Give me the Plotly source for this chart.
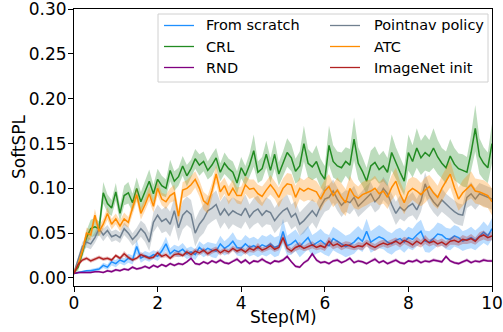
import numpy as np
import plotly.graph_objects as go

# Training step in millions (one sample every 0.1M)
steps = np.round(np.arange(101) * 0.1, 1)

# Mean SoftSPL per method
from_scratch = [0.005, 0.006, 0.007, 0.008, 0.008, 0.009, 0.010, 0.014, 0.012, 0.018,
                0.016, 0.020, 0.018, 0.022, 0.020, 0.035, 0.022, 0.025, 0.023, 0.026,
                0.024, 0.030, 0.038, 0.027, 0.031, 0.029, 0.032, 0.027, 0.029, 0.026,
                0.034, 0.030, 0.033, 0.031, 0.030, 0.038, 0.033, 0.036, 0.041, 0.034,
                0.033, 0.038, 0.034, 0.036, 0.033, 0.037, 0.035, 0.038, 0.034, 0.036,
                0.052, 0.036, 0.038, 0.042, 0.035, 0.040, 0.045, 0.036, 0.039, 0.042,
                0.038, 0.036, 0.044, 0.041, 0.038, 0.035, 0.037, 0.040, 0.045, 0.041,
                0.052, 0.040, 0.043, 0.046, 0.044, 0.040, 0.038, 0.042, 0.044, 0.040,
                0.045, 0.043, 0.048, 0.052, 0.041, 0.040, 0.044, 0.049, 0.048, 0.044,
                0.043, 0.047, 0.045, 0.041, 0.043, 0.045, 0.042, 0.046, 0.051, 0.047,
                0.055]
crl = [0.006, 0.012, 0.028, 0.045, 0.055, 0.057, 0.055, 0.095, 0.083, 0.078,
       0.096, 0.072, 0.092, 0.095, 0.084, 0.100, 0.085, 0.097, 0.108, 0.094,
       0.110, 0.103, 0.100, 0.120, 0.108, 0.113, 0.125, 0.114, 0.122, 0.133,
       0.126, 0.130, 0.120, 0.126, 0.134, 0.118, 0.128, 0.122, 0.118, 0.106,
       0.123, 0.114, 0.126, 0.142, 0.118, 0.122, 0.138, 0.120, 0.138, 0.116,
       0.127, 0.140, 0.134, 0.119, 0.125, 0.150, 0.128, 0.124, 0.130, 0.117,
       0.110, 0.148, 0.130, 0.125, 0.123, 0.130, 0.126, 0.155, 0.128, 0.119,
       0.108, 0.125, 0.129, 0.121, 0.125, 0.118, 0.140, 0.128, 0.118, 0.108,
       0.140, 0.130, 0.145, 0.134, 0.140, 0.136, 0.145, 0.135, 0.128, 0.123,
       0.136, 0.127, 0.122, 0.120, 0.118, 0.140, 0.167, 0.136, 0.128, 0.123,
       0.150]
rnd = [0.005, 0.006, 0.006, 0.006, 0.006, 0.007, 0.007, 0.006, 0.008, 0.007,
       0.009, 0.008, 0.010, 0.009, 0.012, 0.010, 0.011, 0.013, 0.011, 0.014,
       0.012, 0.015, 0.013, 0.016, 0.014, 0.016, 0.015, 0.018, 0.022, 0.016,
       0.015, 0.018, 0.016, 0.019, 0.017, 0.020, 0.017, 0.016, 0.019, 0.021,
       0.017, 0.020, 0.016, 0.019, 0.018, 0.021, 0.018, 0.016, 0.019, 0.018,
       0.020, 0.024, 0.018, 0.013, 0.012, 0.017, 0.020, 0.027, 0.020, 0.017,
       0.018, 0.016, 0.019, 0.020, 0.017, 0.019, 0.022, 0.017, 0.019, 0.018,
       0.016, 0.019, 0.021, 0.017, 0.019, 0.016, 0.018, 0.020, 0.017, 0.016,
       0.019, 0.018, 0.020, 0.017, 0.019, 0.018, 0.020, 0.019, 0.018, 0.024,
       0.019, 0.017, 0.016, 0.018, 0.020, 0.017, 0.019, 0.018, 0.020, 0.019,
       0.019]
pointnav = [0.006, 0.020, 0.035, 0.040, 0.038, 0.045, 0.055, 0.048, 0.053, 0.046,
            0.048, 0.045, 0.055, 0.050, 0.043, 0.048, 0.055, 0.050, 0.040, 0.062,
            0.070, 0.063, 0.066, 0.060, 0.075, 0.056, 0.070, 0.075, 0.071, 0.050,
            0.060, 0.066, 0.075, 0.078, 0.082, 0.070, 0.077, 0.070, 0.075, 0.072,
            0.070, 0.078, 0.068, 0.074, 0.077, 0.070, 0.075, 0.073, 0.064, 0.070,
            0.075, 0.078, 0.068, 0.072, 0.060, 0.064, 0.069, 0.075, 0.069, 0.080,
            0.088, 0.090, 0.097, 0.088, 0.081, 0.086, 0.084, 0.090, 0.080, 0.085,
            0.090, 0.094, 0.085, 0.090, 0.100, 0.094, 0.082, 0.072, 0.079, 0.075,
            0.080, 0.083, 0.076, 0.086, 0.105, 0.092, 0.085, 0.080, 0.087, 0.082,
            0.078, 0.074, 0.071, 0.070, 0.090, 0.094, 0.088, 0.094, 0.092, 0.090,
            0.088]
atc = [0.006, 0.015, 0.030, 0.050, 0.048, 0.070, 0.052, 0.060, 0.072, 0.060,
       0.066, 0.058, 0.066, 0.062, 0.078, 0.093, 0.072, 0.082, 0.094, 0.080,
       0.100, 0.088, 0.085, 0.092, 0.095, 0.069, 0.098, 0.100, 0.104, 0.110,
       0.100, 0.086, 0.082, 0.097, 0.116, 0.096, 0.103, 0.092, 0.100, 0.092,
       0.092, 0.104, 0.099, 0.100, 0.094, 0.091, 0.098, 0.104, 0.098, 0.090,
       0.100, 0.105, 0.104, 0.090, 0.100, 0.097, 0.100, 0.098, 0.096, 0.088,
       0.097, 0.102, 0.092, 0.098, 0.090, 0.084, 0.100, 0.092, 0.089, 0.093,
       0.095, 0.097, 0.100, 0.094, 0.097, 0.090, 0.101, 0.108, 0.094, 0.084,
       0.096, 0.100, 0.097, 0.093, 0.098, 0.102, 0.095, 0.090, 0.100, 0.108,
       0.116, 0.101, 0.088, 0.095, 0.100, 0.104, 0.097, 0.096, 0.094, 0.092,
       0.085]
imagenet_init = [0.005, 0.015, 0.020, 0.022, 0.019, 0.021, 0.023, 0.021, 0.022, 0.020,
                 0.025, 0.022, 0.027, 0.023, 0.020, 0.022, 0.026, 0.024, 0.022, 0.023,
                 0.028, 0.024, 0.026, 0.022, 0.026, 0.027, 0.025, 0.029, 0.026, 0.030,
                 0.028, 0.031, 0.027, 0.030, 0.032, 0.028, 0.031, 0.029, 0.033, 0.030,
                 0.032, 0.029, 0.033, 0.031, 0.035, 0.031, 0.033, 0.036, 0.032, 0.034,
                 0.045, 0.033, 0.030, 0.034, 0.036, 0.033, 0.035, 0.037, 0.034, 0.036,
                 0.034, 0.041, 0.036, 0.038, 0.035, 0.037, 0.036, 0.034, 0.036, 0.035,
                 0.039, 0.036, 0.034, 0.037, 0.039, 0.037, 0.039, 0.041, 0.038, 0.042,
                 0.040, 0.037, 0.041, 0.038, 0.043, 0.039, 0.041, 0.038, 0.040, 0.037,
                 0.041, 0.042, 0.040, 0.043, 0.042, 0.044, 0.041, 0.046, 0.048, 0.045,
                 0.047]

# Spread (std across seeds) per method
from_scratch_sd = [0.001, 0.001, 0.0015, 0.0015, 0.002, 0.002, 0.002, 0.003, 0.003, 0.004,
                   0.004, 0.004, 0.004, 0.005, 0.005, 0.008, 0.005, 0.005, 0.005, 0.005,
                   0.005, 0.006, 0.008, 0.006, 0.006, 0.006, 0.007, 0.006, 0.006, 0.006,
                   0.007, 0.007, 0.007, 0.008, 0.008, 0.009, 0.008, 0.009, 0.010, 0.009,
                   0.009, 0.010, 0.010, 0.010, 0.010, 0.011, 0.011, 0.011, 0.011, 0.011,
                   0.014, 0.011, 0.012, 0.012, 0.012, 0.012, 0.013, 0.012, 0.012, 0.013,
                   0.012, 0.012, 0.013, 0.013, 0.012, 0.012, 0.012, 0.013, 0.013, 0.012,
                   0.014, 0.012, 0.012, 0.013, 0.012, 0.012, 0.012, 0.012, 0.012, 0.012,
                   0.012, 0.012, 0.013, 0.013, 0.012, 0.012, 0.012, 0.013, 0.012, 0.012,
                   0.012, 0.012, 0.012, 0.011, 0.011, 0.012, 0.011, 0.011, 0.012, 0.011,
                   0.012]
crl_sd = [0.002, 0.004, 0.006, 0.008, 0.010, 0.010, 0.008, 0.012, 0.010, 0.009,
          0.010, 0.009, 0.011, 0.012, 0.010, 0.012, 0.011, 0.012, 0.013, 0.010,
          0.012, 0.011, 0.010, 0.012, 0.011, 0.010, 0.011, 0.012, 0.010, 0.011,
          0.012, 0.011, 0.010, 0.012, 0.011, 0.010, 0.012, 0.011, 0.012, 0.013,
          0.012, 0.011, 0.013, 0.018, 0.012, 0.013, 0.015, 0.014, 0.016, 0.013,
          0.014, 0.016, 0.015, 0.014, 0.016, 0.020, 0.016, 0.015, 0.018, 0.016,
          0.015, 0.022, 0.018, 0.016, 0.017, 0.016, 0.018, 0.024, 0.018, 0.016,
          0.015, 0.017, 0.018, 0.016, 0.017, 0.016, 0.020, 0.018, 0.017, 0.016,
          0.020, 0.018, 0.022, 0.019, 0.020, 0.018, 0.022, 0.019, 0.017, 0.018,
          0.019, 0.018, 0.017, 0.018, 0.017, 0.020, 0.026, 0.020, 0.018, 0.017,
          0.022]
rnd_sd = [0.001, 0.001, 0.001, 0.001, 0.001, 0.001, 0.001, 0.001, 0.0015, 0.0015,
          0.0015, 0.0015, 0.0015, 0.0015, 0.0015, 0.0015, 0.0015, 0.0015, 0.0015, 0.0015,
          0.0015, 0.0015, 0.0015, 0.0015, 0.0015, 0.0015, 0.0015, 0.0015, 0.002, 0.0015,
          0.0015, 0.0015, 0.0015, 0.0015, 0.0015, 0.002, 0.0015, 0.0015, 0.0015, 0.002,
          0.0015, 0.002, 0.0015, 0.0015, 0.0015, 0.002, 0.0015, 0.0015, 0.0015, 0.0015,
          0.002, 0.002, 0.0015, 0.0015, 0.0015, 0.0015, 0.002, 0.002, 0.002, 0.0015,
          0.0015, 0.0015, 0.0015, 0.002, 0.0015, 0.0015, 0.002, 0.0015, 0.0015, 0.0015,
          0.0015, 0.0015, 0.002, 0.0015, 0.0015, 0.0015, 0.0015, 0.002, 0.0015, 0.0015,
          0.0015, 0.0015, 0.002, 0.0015, 0.0015, 0.0015, 0.002, 0.0015, 0.0015, 0.002,
          0.0015, 0.0015, 0.0015, 0.0015, 0.002, 0.0015, 0.0015, 0.0015, 0.002, 0.0015,
          0.0015]
pointnav_sd = [0.002, 0.004, 0.005, 0.006, 0.006, 0.006, 0.007, 0.007, 0.006, 0.006,
               0.006, 0.006, 0.007, 0.007, 0.007, 0.008, 0.009, 0.010, 0.010, 0.011,
               0.012, 0.013, 0.014, 0.014, 0.015, 0.015, 0.016, 0.016, 0.016, 0.015,
               0.015, 0.016, 0.016, 0.015, 0.016, 0.015, 0.015, 0.016, 0.015, 0.015,
               0.015, 0.015, 0.014, 0.015, 0.015, 0.014, 0.015, 0.014, 0.014, 0.015,
               0.014, 0.015, 0.014, 0.014, 0.013, 0.014, 0.013, 0.013, 0.014, 0.014,
               0.014, 0.014, 0.013, 0.013, 0.013, 0.012, 0.013, 0.013, 0.012, 0.013,
               0.013, 0.013, 0.012, 0.013, 0.013, 0.012, 0.012, 0.013, 0.013, 0.012,
               0.012, 0.013, 0.012, 0.012, 0.013, 0.012, 0.012, 0.012, 0.013, 0.012,
               0.012, 0.013, 0.012, 0.012, 0.012, 0.013, 0.012, 0.012, 0.012, 0.012,
               0.012]
atc_sd = [0.002, 0.004, 0.005, 0.006, 0.006, 0.007, 0.006, 0.006, 0.007, 0.006,
          0.006, 0.006, 0.007, 0.006, 0.007, 0.008, 0.007, 0.007, 0.008, 0.007,
          0.008, 0.007, 0.008, 0.008, 0.009, 0.008, 0.009, 0.009, 0.010, 0.009,
          0.009, 0.010, 0.010, 0.009, 0.010, 0.010, 0.009, 0.010, 0.010, 0.009,
          0.010, 0.010, 0.011, 0.010, 0.010, 0.011, 0.010, 0.011, 0.010, 0.011,
          0.011, 0.012, 0.012, 0.013, 0.012, 0.012, 0.013, 0.012, 0.012, 0.013,
          0.013, 0.014, 0.013, 0.014, 0.016, 0.015, 0.014, 0.014, 0.013, 0.014,
          0.014, 0.013, 0.014, 0.013, 0.014, 0.013, 0.014, 0.015, 0.014, 0.013,
          0.014, 0.013, 0.014, 0.013, 0.014, 0.013, 0.014, 0.013, 0.014, 0.014,
          0.015, 0.014, 0.013, 0.014, 0.014, 0.015, 0.014, 0.014, 0.015, 0.014,
          0.015]
imagenet_init_sd = [0.001, 0.002, 0.002, 0.002, 0.002, 0.002, 0.002, 0.002, 0.002, 0.002,
                    0.002, 0.002, 0.003, 0.002, 0.002, 0.002, 0.003, 0.002, 0.002, 0.002,
                    0.003, 0.002, 0.003, 0.002, 0.003, 0.003, 0.002, 0.003, 0.003, 0.003,
                    0.003, 0.003, 0.003, 0.003, 0.003, 0.003, 0.003, 0.003, 0.003, 0.003,
                    0.003, 0.003, 0.004, 0.003, 0.004, 0.003, 0.003, 0.004, 0.003, 0.003,
                    0.005, 0.004, 0.003, 0.004, 0.004, 0.003, 0.004, 0.004, 0.003, 0.004,
                    0.004, 0.005, 0.004, 0.004, 0.004, 0.004, 0.004, 0.003, 0.004, 0.004,
                    0.004, 0.004, 0.004, 0.004, 0.004, 0.004, 0.004, 0.004, 0.004, 0.004,
                    0.004, 0.004, 0.005, 0.004, 0.005, 0.004, 0.004, 0.004, 0.004, 0.004,
                    0.004, 0.005, 0.004, 0.005, 0.004, 0.005, 0.004, 0.005, 0.005, 0.004,
                    0.005]

methods = [
    # name, mean, sd, line colour, band rgb
    ("From scratch", from_scratch, from_scratch_sd, "#1E90FF", (30, 144, 255)),
    ("CRL", crl, crl_sd, "#228B22", (34, 139, 34)),
    ("RND", rnd, rnd_sd, "#800080", (128, 0, 128)),
    ("Pointnav policy", pointnav, pointnav_sd, "#708090", (112, 128, 144)),
    ("ATC", atc, atc_sd, "#FF8C00", (255, 140, 0)),
    ("ImageNet init", imagenet_init, imagenet_init_sd, "#B22222", (178, 34, 34)),
]

x_tick_vals = [0, 2, 4, 6, 8, 10]
y_tick_vals = [0.00, 0.05, 0.10, 0.15, 0.20, 0.25, 0.30]

# Figure geometry in pixels
W, H = 503, 332
ML, MR, MT, MB = 74, 11, 9, 46
PW, PH = W - ML - MR, H - MT - MB


def px_x(px):
    """Horizontal pixel position -> paper fraction."""
    return (px - ML) / PW


def px_y(py):
    """Vertical pixel position (from top) -> paper fraction."""
    return (H - MB - py) / PH


fig = go.Figure()
xs = list(steps)
for name, mean, sd, color, rgb in methods:
    m = np.array(mean)
    s = np.array(sd)
    upper = m + s
    lower = m - s
    fig.add_trace(go.Scatter(
        x=xs + xs[::-1], y=list(upper) + list(lower[::-1]),
        fill="toself", fillcolor="rgba(%d,%d,%d,0.3)" % rgb,
        line=dict(width=0), mode="lines", showlegend=False, hoverinfo="skip"))
    fig.add_trace(go.Scatter(
        x=xs, y=mean, mode="lines", name=name, showlegend=False,
        line=dict(color=color, width=1.5)))

font_family = "DejaVu Sans"

# Two-column legend box (columns filled top to bottom)
shapes = [dict(type="rect", xref="paper", yref="paper",
               x0=px_x(158), x1=px_x(488), y0=px_y(82), y1=px_y(14),
               fillcolor="rgba(255,255,255,0.8)",
               line=dict(color="#d0d0d0", width=1), layer="above")]
annotations = []
row_py = [25.5, 46.5, 67.5]
col_px = [(164, 194, 204), (330, 360, 372)]
for i, (name, _, _, color, _) in enumerate(methods):
    col, row = divmod(i, 3)
    lx0, lx1, tx = col_px[col]
    yy = px_y(row_py[row])
    shapes.append(dict(type="line", xref="paper", yref="paper",
                       x0=px_x(lx0), x1=px_x(lx1), y0=yy, y1=yy,
                       line=dict(color=color, width=1.3), layer="above"))
    annotations.append(dict(text=name, xref="paper", yref="paper",
                            x=px_x(tx), y=yy, xanchor="left", yanchor="middle",
                            showarrow=False,
                            font=dict(family=font_family, size=14.5, color="black")))

# Axis titles
annotations.append(dict(text="SoftSPL", xref="paper", yref="paper",
                        x=px_x(19), y=px_y(147), textangle=-90,
                        xanchor="center", yanchor="middle", showarrow=False,
                        font=dict(family=font_family, size=17, color="black")))
annotations.append(dict(text="Step(M)", xref="paper", yref="paper",
                        x=px_x(283), y=px_y(317),
                        xanchor="center", yanchor="middle", showarrow=False,
                        font=dict(family=font_family, size=17, color="black")))

fig.update_layout(
    width=W, height=H,
    margin=dict(l=ML, r=MR, t=MT, b=MB, autoexpand=False),
    paper_bgcolor="white", plot_bgcolor="white",
    font=dict(family=font_family, size=17, color="black"),
    showlegend=False,
    shapes=shapes,
    annotations=annotations,
)
fig.update_xaxes(
    range=[0, 10], tickvals=x_tick_vals, ticks="outside", ticklen=5, tickwidth=1,
    tickcolor="black", showline=True, linecolor="black", linewidth=1, mirror=True,
    showgrid=False, zeroline=False, tickfont=dict(size=17), automargin=False,
    ticklabeloverflow="allow", ticklabelstandoff=-3,
)
fig.update_yaxes(
    range=[-0.009, 0.3002], tickvals=y_tick_vals, tickformat=".2f", ticks="outside",
    ticklen=5, tickwidth=1, tickcolor="black", showline=True, linecolor="black",
    linewidth=1, mirror=True, showgrid=False, zeroline=False,
    tickfont=dict(size=17), automargin=False, ticklabeloverflow="allow",
    ticklabelstandoff=-2,
)

fig.write_html("out.html")
